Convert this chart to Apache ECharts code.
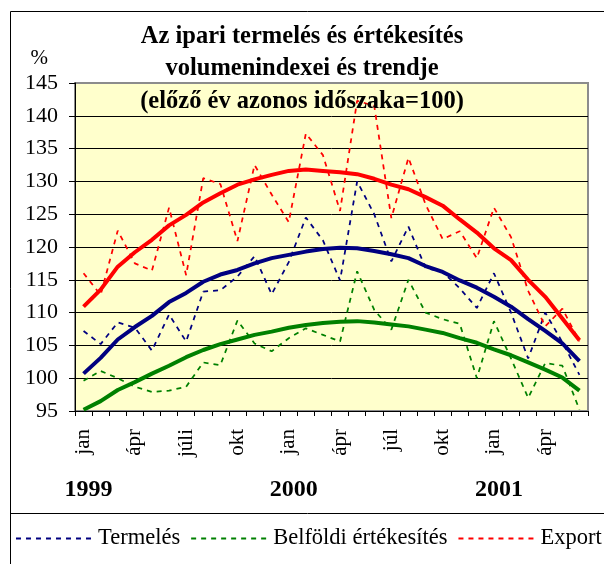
<!DOCTYPE html>
<html>
<head>
<meta charset="utf-8">
<script src="https://cdn.jsdelivr.net/npm/echarts@6/dist/echarts.min.js"></script>
<style>
html,body{margin:0;padding:0;background:#fff;}
#chart{width:604px;height:564px;}
</style>
</head>
<body>
<div id="chart"></div>
<script>
// ---- data ----
const months = ['jan','feb','márc','ápr','máj','jún','júli','aug','szept','okt','nov','dec',
                'jan','feb','márc','ápr','máj','jún','júl','aug','szept','okt','nov','dec',
                'jan','feb','márc','ápr','máj','jún'];
const years = ['1999','2000','2001'];
const yTicks = [95,100,105,110,115,120,125,130,135,140,145];

const termeles = [107.2,105.2,108.5,107.7,104.2,109.7,105.6,113.2,113.4,115.5,118.6,112.8,117.7,124.5,121.0,
                  114.9,130.0,125.0,117.8,123.1,116.8,116.2,113.7,110.7,116.0,110.0,103.0,110.0,105.5,100.5];
const belfoldi = [99.6,101.1,100.0,98.7,97.9,98.1,98.7,102.4,102.0,108.8,105.3,104.1,106.1,107.6,106.6,
                  105.6,116.3,110.4,107.4,115.0,110.0,109.0,108.3,100.0,108.7,103.0,97.0,102.3,101.9,95.2];
const exportData = [116.0,112.7,122.5,117.5,116.4,126.0,115.7,130.5,129.6,120.9,132.5,128.0,123.8,137.3,134.0,
                  125.5,142.3,141.5,124.4,133.6,126.5,121.2,122.4,118.3,126.0,121.5,113.3,107.9,110.6,105.6];

const termelesTrend = [100.7,103.1,105.9,107.8,109.5,111.6,113.0,114.7,115.8,116.5,117.5,118.3,118.8,119.3,119.7,
                       119.9,119.8,119.4,118.9,118.3,117.1,116.2,114.9,113.8,112.4,110.9,109.0,107.2,105.3,102.6];
const belfoldiTrend = [95.2,96.5,98.2,99.4,100.7,101.9,103.2,104.3,105.2,105.9,106.6,107.1,107.7,108.1,108.4,
                       108.6,108.7,108.5,108.2,107.9,107.4,106.9,106.1,105.4,104.4,103.5,102.4,101.3,100.1,98.1];
const exportTrend = [110.9,113.5,117.0,119.2,121.1,123.3,124.9,126.8,128.2,129.5,130.3,131.0,131.6,131.8,131.6,
                     131.4,131.1,130.4,129.5,128.8,127.6,126.3,124.2,122.2,119.8,118.0,115.0,112.4,109.1,105.8];

const seriesNames = ['Termelés','Belföldi értékesítés','Export'];
const colors = ['#000080','#008000','#FF0000'];
const titleText = 'Az ipari termelés és értékesítés\nvolumenindexei és trendje\n(előző év azonos időszaka=100)';

// ---- chart ----
const FONT = '"Liberation Serif", "Times New Roman", serif';
const chart = echarts.init(document.getElementById('chart'), null, {renderer:'canvas'});

function dashed(name, data, color){
  return {name:name, type:'line', data:data, symbol:'none', z:2,
          lineStyle:{color:color, width:1.75, type:[5,5]}, itemStyle:{color:color}};
}
function trend(data, color){
  return {type:'line', data:data, symbol:'none', z:3, legendHoverLink:false,
          lineStyle:{color:color, width:4}, itemStyle:{color:color}};
}

// grid line colours: black, except the top one which merges with the grey plot border
const gridLineColors = yTicks.map(function(t, i){ return i === yTicks.length - 1 ? '#8c8c8c' : '#000'; });

chart.setOption({
  animation:false,
  backgroundColor:'#ffffff',
  textStyle:{fontFamily:FONT, color:'#000'},
  title:{
    text:titleText,
    left:'center', top:15, padding:[5,0,5,12], z:10,
    textStyle:{fontFamily:FONT, fontSize:24.5, fontWeight:'bold', color:'#000', lineHeight:32.5}
  },
  legend:{
    data:seriesNames,
    left:15, top:527, width:589, padding:0,
    itemWidth:77, itemHeight:3, itemGap:10,
    itemStyle:{opacity:0},
    textStyle:{fontFamily:FONT, fontSize:22.5, color:'#000'}
  },
  grid:{left:75, right:16, top:83, bottom:153, show:true,
        backgroundColor:'#FFFFCC', borderColor:'#8c8c8c', borderWidth:2},
  xAxis:[{
    type:'category', data:months, boundaryGap:true,
    axisLine:{show:true, lineStyle:{color:'#000', width:1}},
    axisTick:{show:true, inside:false, length:5, interval:0, lineStyle:{color:'#000'}},
    axisLabel:{interval:2, rotate:90, margin:18, fontFamily:FONT, fontSize:21, color:'#000'},
    splitLine:{show:false}
  },{
    type:'category', data:months, position:'bottom', gridIndex:0,
    axisLine:{show:false}, axisTick:{show:false}, splitLine:{show:false},
    axisLabel:{interval:11, margin:67, fontFamily:FONT, fontSize:24, fontWeight:'bold', color:'#000',
               padding:[0,0,0,10],
               formatter:function(v, i){ return years[Math.floor(i/12)] || ''; }}
  }],
  yAxis:{
    type:'value', min:yTicks[0], max:yTicks[yTicks.length-1], interval:5,
    name:'%', nameLocation:'end', nameGap:14,
    nameTextStyle:{fontFamily:FONT, fontSize:21, color:'#000', align:'right', padding:[0,27,0,0]},
    axisLine:{show:true, lineStyle:{color:'#000', width:1}},
    axisTick:{show:true, inside:false, length:6, lineStyle:{color:'#000'}},
    axisLabel:{margin:17, fontFamily:FONT, fontSize:22, color:'#000'},
    splitLine:{show:true, lineStyle:{color:gridLineColors, width:1}}
  },
  graphic:[
    {type:'polyline', z:100, silent:true,
     shape:{points:[[10.5,600],[10.5,11.5],[620,11.5]]},
     style:{stroke:'#000', lineWidth:1, fill:null}},
    {type:'line', z:100, silent:true,
     shape:{x1:10, y1:513.5, x2:620, y2:513.5},
     style:{stroke:'#000', lineWidth:1}}
  ],
  series:[
    dashed(seriesNames[0], termeles, colors[0]),
    dashed(seriesNames[1], belfoldi, colors[1]),
    dashed(seriesNames[2], exportData, colors[2]),
    trend(termelesTrend, colors[0]),
    trend(belfoldiTrend, colors[1]),
    trend(exportTrend, colors[2])
  ]
});
</script>
</body>
</html>
